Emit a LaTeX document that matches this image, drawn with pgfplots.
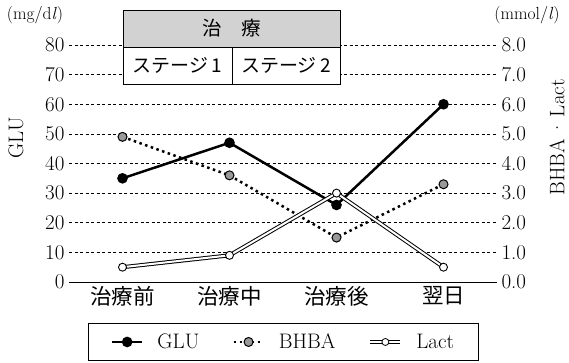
\documentclass[border=0pt]{standalone}
\usepackage{fontspec}
\newfontfamily\cjk{Noto Sans CJK JP}
\usepackage{pgfplots}
\pgfplotsset{compat=1.18}
\begin{document}
\begin{tikzpicture}[x=1pt,y=1pt]
\useasboundingbox (0,0) rectangle (569,362);
\begin{axis}[
  at={(69pt,80pt)}, anchor=south west,
  scale only axis, width=428pt, height=237pt,
  xmin=-0.5, xmax=3.5, ymin=0, ymax=80,
  xtick={0,1,2,3}, xticklabels={治療前,治療中,治療後,翌日},
  xticklabel style={font=\cjk\fontsize{21.5}{22}\selectfont, yshift=-1pt},
  ytick={0,10,...,80}, ytick pos=left, xtick pos=bottom,
  yticklabel style={font=\fontsize{21}{22}\selectfont, /pgf/number format/assume math mode=true, xshift=-1pt},
  axis line style={draw=none}, major tick length=0pt,
  ymajorgrids, grid style={black, line width=0.7pt, dash pattern=on 3pt off 2.5pt},
  clip=false,
]
\addplot[black, line width=2.5pt, mark=*, mark size=4pt, mark options={solid}] coordinates {(0,35) (1,47) (2,26) (3,60)};
\draw[black, line width=1pt] (axis cs:-0.5,0) -- (axis cs:3.5,0);
\end{axis}
\begin{axis}[
  at={(69pt,80pt)}, anchor=south west,
  scale only axis, width=428pt, height=237pt,
  xmin=-0.5, xmax=3.5, ymin=0, ymax=8,
  xtick=\empty, ytick={0,1,...,8}, ytick pos=right, yticklabel pos=right,
  yticklabel style={font=\fontsize{21}{22}\selectfont, xshift=1pt, /pgf/number format/.cd, assume math mode=true, fixed, fixed zerofill, precision=1},
  axis line style={draw=none}, major tick length=0pt,
  clip=false,
  legend image code/.code={\draw[mark repeat=2,mark phase=2,#1] plot coordinates {(0pt,0pt) (15pt,0pt) (30pt,0pt)};},
  legend style={at={(0.5,-0.253)}, anchor=center, legend columns=3, draw=black, line width=0.8pt,
    font=\fontsize{21}{22}\selectfont, inner xsep=23pt, inner ysep=9pt, nodes={inner sep=1pt},
    /tikz/every odd column/.append style={column sep=13pt},
    /tikz/every even column/.append style={column sep=32pt}},
]
\addlegendimage{black, line width=2.5pt, mark=*, mark size=4pt, mark options={solid}}
\addplot[black, line width=2.5pt, dash pattern=on 2.5pt off 3.5pt, mark=*, mark size=4.5pt, mark options={solid, fill=gray!80, draw=black, line width=1pt}] coordinates {(0,4.9) (1,3.6) (2,1.5) (3,3.3)};
\addplot[black, line width=4pt, forget plot] coordinates {(0,0.5) (1,0.9) (2,3.0) (3,0.5)};
\addplot[white, line width=2pt, mark=*, mark size=4pt, mark options={draw=black, fill=white, line width=0.9pt},
  legend image code/.code={\draw[black,line width=4pt] (0pt,0pt)--(30pt,0pt); \draw[white,line width=2pt] (0pt,0pt)--(30pt,0pt); \draw[black,fill=white,line width=0.8pt] (15pt,0pt) circle (3.5pt);}]
  coordinates {(0,0.5) (1,0.9) (2,3.0) (3,0.5)};
\legend{GLU, BHBA, Lact}
\end{axis}
% titles
\node[font=\fontsize{17.5}{18}\selectfont] at (35,347) {(mg/d\textit{l})};
\node[font=\fontsize{17.5}{18}\selectfont] at (527,347) {(mmol/\textit{l})};
\node[font=\fontsize{21}{22}\selectfont, rotate=90] at (16,224) {GLU};
\node[font=\fontsize{21}{22}\selectfont, rotate=90] at (557,224.5) {BHBA\,·\,Lact};
% treatment table
\fill[white] (123,278) rectangle (340,352);
\fill[gray!35] (123,315) rectangle (340,352);
\draw[line width=0.8pt] (123,278) rectangle (340,352);
\draw[line width=0.8pt] (123,315) -- (340,315);
\draw[line width=0.8pt] (232,315) -- (232,278);
\node[font=\cjk\fontsize{19.5}{20}\selectfont] at (231.5,333.5) {治　療};
\node[font=\cjk\fontsize{19}{20}\selectfont] at (177.5,296.5) {ステージ\,1};
\node[font=\cjk\fontsize{19}{20}\selectfont] at (286,296.5) {ステージ\,2};
\end{tikzpicture}
\end{document}
